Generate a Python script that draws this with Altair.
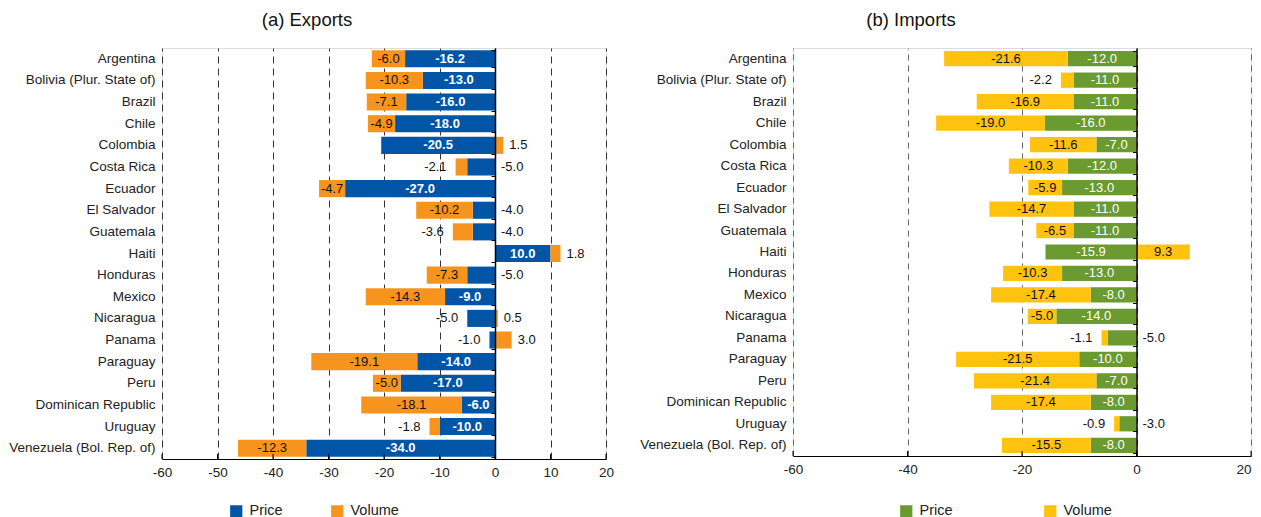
import altair as alt
import pandas as pd

countries = ["Argentina", "Bolivia (Plur. State of)", "Brazil", "Chile", "Colombia",
             "Costa Rica", "Ecuador", "El Salvador", "Guatemala", "Haiti", "Honduras",
             "Mexico", "Nicaragua", "Panama", "Paraguay", "Peru", "Dominican Republic",
             "Uruguay", "Venezuela (Bol. Rep. of)"]
components = ["Price", "Volume"]
exp_price = [-16.2, -13.0, -16.0, -18.0, -20.5, -5.0, -27.0, -4.0, -4.0, 10.0, -5.0,
             -9.0, -5.0, -1.0, -14.0, -17.0, -6.0, -10.0, -34.0]
exp_volume = [-6.0, -10.3, -7.1, -4.9, 1.5, -2.1, -4.7, -10.2, -3.6, 1.8, -7.3,
              -14.3, 0.5, 3.0, -19.1, -5.0, -18.1, -1.8, -12.3]
imp_price = [-12.0, -11.0, -11.0, -16.0, -7.0, -12.0, -13.0, -11.0, -11.0, -15.9, -13.0,
             -8.0, -14.0, -5.0, -10.0, -7.0, -8.0, -3.0, -8.0]
imp_volume = [-21.6, -2.2, -16.9, -19.0, -11.6, -10.3, -5.9, -14.7, -6.5, 9.3, -10.3,
              -17.4, -5.0, -1.1, -21.5, -21.4, -17.4, -0.9, -15.5]
exp_ticks = [-60, -50, -40, -30, -20, -10, 0, 10, 20]
imp_ticks = [-60, -40, -20, 0, 20]

FONT = "Liberation Sans"


def make_df(price, volume):
    rows = []
    for c, p, v in zip(countries, price, volume):
        rows.append({"country": c, "comp": components[0], "value": p, "ord": 0})
        rows.append({"country": c, "comp": components[1], "value": v, "ord": 1})
    return pd.DataFrame(rows)


def panel(df, colors, title, width, height, ticks, grid_color, grid_dash,
          price_weight, legend_x, legend_pad, title_dx, title_offset, pad_inner,
          right_flush):
    base = (
        alt.Chart(df)
        .transform_calculate(vol="datum.comp == 'Volume' ? datum.value : 0")
        .transform_joinaggregate(volsum="sum(vol)", groupby=["country"])
        .transform_stack(stack="value", groupby=["country"], as_=["v0", "v1"],
                         sort=[alt.SortField("ord", order="ascending")], offset="zero")
        .transform_calculate(lo="min(datum.v0, datum.v1)")
        .transform_calculate(hi="max(datum.v0, datum.v1)")
        .transform_calculate(mid="(datum.v0 + datum.v1) / 2")
        .transform_calculate(
            inside="datum.comp == 'Price' ? abs(datum.value) >= 6 : abs(datum.value) >= 4.5")
        .transform_calculate(
            side="datum.inside ? 'in' : (datum.comp == 'Volume' ? (datum.value < 0 ? 'left' : 'right') : "
                 "(((datum.volsum < 0) == (datum.value < 0)) ? (datum.value < 0 ? 'right' : 'left') : "
                 "(datum.value < 0 ? 'left' : 'right')))")
        .transform_calculate(
            lab="(datum.value < 0 ? '-' : '') + format(abs(datum.value), '.1f')")
    )
    xscale = alt.Scale(domain=[ticks[0], ticks[-1]], nice=False, zero=False)
    axis_kw = dict(values=ticks, grid=True, gridDash=grid_dash, gridColor=grid_color,
                   gridWidth=1, ticks=False, tickSize=0, domainColor="black",
                   domainWidth=1.2, labelPadding=6, labelFontSize=13.5,
                   labelFont=FONT, labelColor="#222", title=None, orient="bottom",
                   labelFlush=False,
                   labelExpr="(datum.value < 0 ? '-' : '') + abs(datum.value)")
    if right_flush:
        axis_kw["labelAlign"] = {"condition": {"test": "datum.value >= %d" % ticks[-1],
                                               "value": "right"},
                                 "value": "center"}
    xaxis = alt.Axis(**axis_kw)
    yscale = alt.Scale(paddingInner=pad_inner, paddingOuter=pad_inner / 2)
    y_noaxis = alt.Y("country:N", sort=countries, axis=None)

    bars = base.mark_bar().encode(
        x=alt.X("v0:Q", scale=xscale, axis=xaxis),
        x2="v1:Q",
        y=alt.Y("country:N", sort=countries, scale=yscale,
                axis=alt.Axis(title=None, domain=False, ticks=False, labelPadding=7,
                              labelFontSize=13.5, labelFont=FONT, labelColor="#222",
                              grid=False, orient="left")),
        color=alt.Color("comp:N", scale=alt.Scale(domain=components, range=colors),
                        legend=alt.Legend(orient="none", legendX=legend_x, legendY=456,
                                          direction="horizontal", title=None,
                                          symbolType="square", symbolSize=150,
                                          symbolStrokeWidth=0, symbolOpacity=1,
                                          labelFontSize=14.5, labelFont=FONT,
                                          labelColor="#222", columnPadding=legend_pad,
                                          labelOffset=6, padding=0)),
    )

    txt_common = dict(fontSize=13, font=FONT, baseline="middle")
    price_in = base.transform_filter("datum.inside && datum.comp == 'Price'").mark_text(
        color="white", fontWeight=price_weight, align="center", **txt_common
    ).encode(x=alt.X("mid:Q", scale=xscale, axis=xaxis), y=y_noaxis, text="lab:N")
    vol_in = base.transform_filter("datum.inside && datum.comp == 'Volume'").mark_text(
        color="#111", align="center", **txt_common
    ).encode(x=alt.X("mid:Q", scale=xscale, axis=xaxis), y=y_noaxis, text="lab:N")
    out_left = base.transform_filter("datum.side == 'left'").mark_text(
        color="#111", align="right", dx=-9, **txt_common
    ).encode(x=alt.X("lo:Q", scale=xscale, axis=xaxis), y=y_noaxis, text="lab:N")
    out_right = base.transform_filter("datum.side == 'right'").mark_text(
        color="#111", align="left", dx=6, **txt_common
    ).encode(x=alt.X("hi:Q", scale=xscale, axis=xaxis), y=y_noaxis, text="lab:N")

    tick_marks = alt.Chart(pd.DataFrame({"t": ticks})).mark_rule(
        color="black", strokeWidth=1
    ).encode(x=alt.X("t:Q", scale=xscale, axis=xaxis),
             y=alt.value(height - 5), y2=alt.value(height))

    zero_off = -(0 - ticks[0]) / (ticks[-1] - ticks[0]) * width
    zero_axis = alt.Chart(df).mark_point(opacity=0).encode(
        y=alt.Y("country:N", sort=countries,
                axis=alt.Axis(title=None, labels=False, domain=True, domainColor="black",
                              domainWidth=1.5, ticks=True, tickBand="extent", tickSize=4,
                              tickColor="black", tickWidth=1, offset=zero_off, zindex=1,
                              grid=False, orient="left"))
    )

    return alt.layer(bars, tick_marks, price_in, vol_in, out_left, out_right,
                     zero_axis).resolve_axis(
        y="independent"
    ).properties(
        width=width, height=height,
        title=alt.TitleParams(title, fontSize=18.5, fontWeight="normal", font=FONT,
                              color="#111", anchor="middle", offset=title_offset,
                              dx=title_dx),
    )


exp_chart = panel(make_df(exp_price, exp_volume), ["#0055A6", "#F7941D"], "(a) Exports",
                  444, 411, exp_ticks, "#333333", [7, 5], "bold", 67, 47, -77, 19, 0.21,
                  False)
imp_chart = panel(make_df(imp_price, imp_volume), ["#6A9A30", "#FFC20E"], "(b) Imports",
                  458, 408, imp_ticks, "#666666", [6, 5], "normal", 106, 90, -111, 19, 0.29,
                  True)

chart = alt.hconcat(exp_chart, imp_chart, spacing=24).resolve_scale(
    color="independent", x="independent", y="independent"
).resolve_legend(color="independent").properties(
    padding={"left": 0, "top": 2, "right": 0, "bottom": 0}
).configure_view(strokeWidth=0, stroke="transparent").configure(background="white")

chart.save("out.html", embed_options={"renderer": "svg", "actions": False})
